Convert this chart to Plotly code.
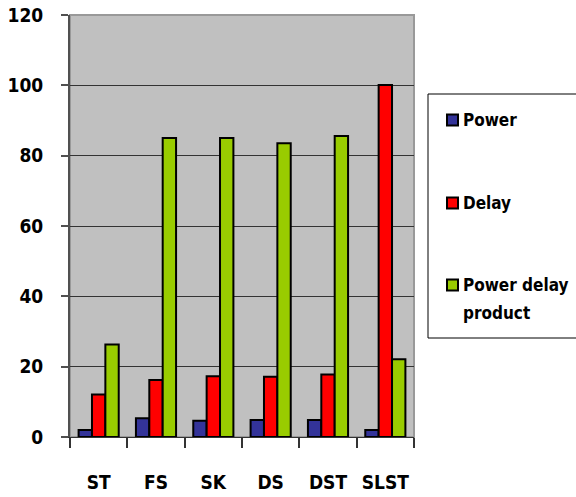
import plotly.graph_objects as go

# Circuit styles compared
categories = ["ST", "FS", "SK", "DS", "DST", "SLST"]
power = [2.0, 5.3, 4.6, 4.8, 4.8, 2.0]
delay = [12.1, 16.2, 17.3, 17.1, 17.8, 100.1]
pdp = [26.3, 85.0, 85.0, 83.5, 85.6, 22.1]

series_names = ["Power", "Delay", "Power delay product"]
legend_lines = [["Power"], ["Delay"], ["Power delay", "product"]]
series_colors = ["#333399", "#FF0000", "#99CC00"]
y_ticks = [0, 20, 40, 60, 80, 100, 120]

axis_font = dict(family="DejaVu Sans Condensed, sans-serif", size=19,
                 color="black", weight="bold")
legend_font = dict(family="DejaVu Sans Condensed, sans-serif", size=17,
                   color="black", weight="bold")

fig = go.Figure()
for name, vals, col in zip(series_names, [power, delay, pdp], series_colors):
    fig.add_trace(go.Bar(
        x=categories, y=vals, name=name, showlegend=False,
        marker=dict(color=col, line=dict(color="black", width=2)),
    ))

W, H = 576, 497
L, R, T, B = 70, 162, 15, 60
pw, ph = W - L - R, H - T - B

def px_x(p):
    return (p - L) / pw

def px_y(p):
    return (H - B - p) / ph

shapes = [
    # light frame along the top and right of the plotting area
    dict(type="rect", xref="paper", yref="paper", x0=0, x1=1, y0=0, y1=1,
         line=dict(color="#999999", width=2), layer="below"),
    # legend frame running off the right edge
    dict(type="rect", xref="paper", yref="paper",
         x0=px_x(428), x1=px_x(600), y0=px_y(338), y1=px_y(94),
         line=dict(color="black", width=1), fillcolor="white", layer="below"),
]
annotations = []

# hand-placed legend: swatch + label per series
entry_y = [120, 203, 285]
line_step = 28
for lines, col, yc in zip(legend_lines, series_colors, entry_y):
    shapes.append(dict(type="rect", xref="paper", yref="paper",
                       x0=px_x(447), x1=px_x(458), y0=px_y(yc + 5.5), y1=px_y(yc - 5.5),
                       line=dict(color="black", width=2), fillcolor=col))
    for k, txt in enumerate(lines):
        annotations.append(dict(xref="paper", yref="paper", x=px_x(461),
                                y=px_y(yc + k * line_step), text=txt, showarrow=False,
                                xanchor="left", yanchor="middle", font=legend_font))

fig.update_layout(
    width=W, height=H,
    margin=dict(l=L, r=R, t=T, b=B, autoexpand=False),
    paper_bgcolor="white",
    plot_bgcolor="#C0C0C0",
    barmode="group", bargap=0.3, bargroupgap=0,
    showlegend=False,
    xaxis=dict(
        automargin=False, tickangle=0,
        showgrid=False, showline=True, linecolor="#333333", linewidth=1,
        ticks="outside", tickson="boundaries", ticklen=10, tickcolor="#333333", tickwidth=2,
        ticklabelstandoff=28, tickfont=axis_font,
    ),
    yaxis=dict(
        automargin=False,
        range=[0, 120], tickvals=y_ticks, showgrid=True, gridcolor="#333333", gridwidth=1,
        showline=True, linecolor="#505050", linewidth=2,
        ticks="outside", ticklen=7, tickcolor="#505050", tickwidth=2,
        ticklabelstandoff=14, tickfont=axis_font, zeroline=False,
    ),
    shapes=shapes,
    annotations=annotations,
)

fig.write_html("out.html")
